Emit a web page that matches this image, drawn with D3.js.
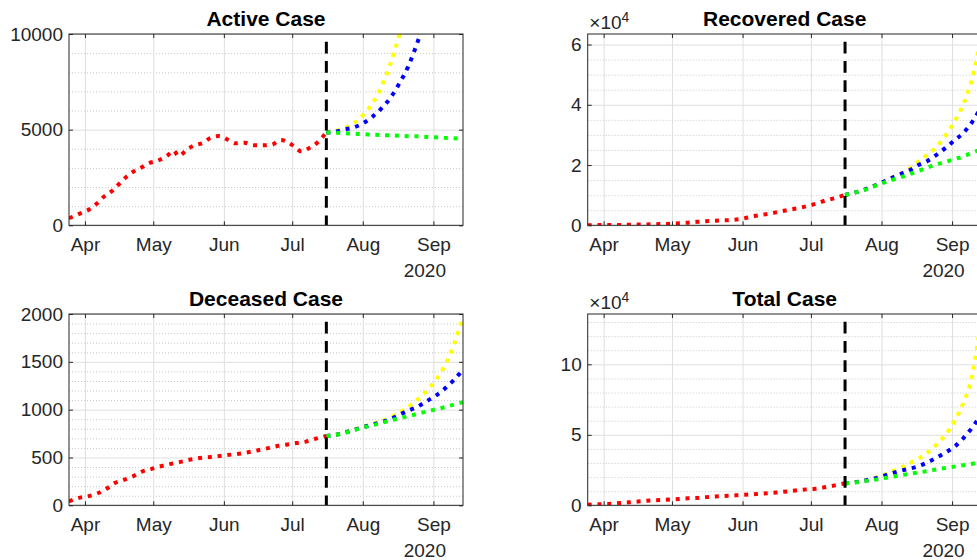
<!DOCTYPE html>
<html>
<head>
<meta charset="utf-8">
<script src="https://cdn.jsdelivr.net/npm/d3@7"></script>
<style>
body { margin: 0; background: #fff; }
svg { display: block; font-family: "Liberation Sans", Arial, Helvetica, sans-serif; }
</style>
</head>
<body>
<svg id="fig" width="977" height="560"></svg>
<script>
// ---- data ----
const xStart = "2020-03-25";
const xEnd = "2020-09-14";
const splitDate = "2020-07-16";

// common history dates (recovered, deceased, total)
const histDates = ["2020-03-25","2020-03-29","2020-04-02","2020-04-06","2020-04-10","2020-04-14",
  "2020-04-18","2020-04-22","2020-04-26","2020-04-30","2020-05-04","2020-05-08","2020-05-12",
  "2020-05-16","2020-05-20","2020-05-24","2020-05-28","2020-06-01","2020-06-05","2020-06-09",
  "2020-06-13","2020-06-17","2020-06-21","2020-06-25","2020-06-29","2020-07-03","2020-07-07",
  "2020-07-11","2020-07-16"];

// active case has more wiggles, own dates
const activeDates = ["2020-03-25","2020-03-26","2020-03-30","2020-04-03","2020-04-06","2020-04-09",
  "2020-04-13","2020-04-16","2020-04-19","2020-04-22","2020-04-26","2020-04-29","2020-05-03",
  "2020-05-07","2020-05-10","2020-05-12","2020-05-16","2020-05-19","2020-05-23","2020-05-26",
  "2020-05-30","2020-06-03","2020-06-06","2020-06-10","2020-06-14","2020-06-18","2020-06-22",
  "2020-06-26","2020-06-29","2020-07-02","2020-07-05","2020-07-08","2020-07-12","2020-07-15",
  "2020-07-16"];
const activeHist = [380,418,627,836,1113,1464,1809,2159,2509,2786,3032,3241,3377,3623,3900,3623,
  3973,4182,4318,4564,4668,4459,4286,4318,4182,4182,4213,4459,4355,4109,3868,4004,4318,4705,4850];

const recoveredHist = [50,60,80,100,150,200,260,330,400,500,650,870,1150,1350,1500,1650,1800,2200,
  2900,3400,3900,4500,5100,5650,6300,7100,8150,8950,10100];
const deceasedHist = [40,75,92,120,165,232,265,302,352,378,406,430,449,471,489,500,510,521,532,544,
  560,580,600,622,636,652,666,694,725];
const totalHist = [420,690,950,1330,1900,2360,2920,3420,3780,4150,4480,5000,5250,5800,6200,6550,6930,
  7340,7780,8250,8650,9260,9900,10700,11300,11750,12800,13950,15600];

// prediction dates
const predDates = ["2020-07-16","2020-07-20","2020-07-24","2020-07-28","2020-08-01","2020-08-05",
  "2020-08-09","2020-08-13","2020-08-17","2020-08-21","2020-08-25","2020-08-29","2020-09-02",
  "2020-09-06","2020-09-10","2020-09-14"];

const activeYellow = [4850,4920,5080,5330,5750,6330,7200,8400,9950,12000,14500,17500,21000,25000,30000,36000];
const activeBlue   = [4850,4900,5010,5120,5320,5650,6090,6640,7400,8320,9560,11000,12800,15000,17500,20500];
const activeGreen  = [4850,4840,4810,4790,4760,4740,4720,4700,4680,4660,4650,4620,4600,4570,4550,4520];

const recoveredYellow = [10100,10800,11700,12900,14200,15600,17000,18600,21100,23300,25900,29700,34400,40300,49300,64000];
const recoveredBlue   = [10100,10800,11700,12850,14150,15500,16900,18100,19900,21300,23300,25600,28200,30700,34500,39500];
const recoveredGreen  = [10100,10800,11600,12700,13900,14900,15850,16850,18000,19100,20200,21000,21950,22900,24100,25300];

const deceasedYellow = [725,737,762,792,820,848,878,918,968,1030,1105,1195,1310,1460,1680,1980];
const deceasedBlue   = [725,737,760,788,816,842,868,900,946,990,1030,1088,1145,1220,1310,1420];
const deceasedGreen  = [725,735,757,785,813,836,860,887,909,933,956,980,1003,1026,1053,1078];

const totalYellow = [15600,16300,17400,18900,21000,23500,26300,29500,32800,37000,42800,49800,59500,73000,93000,136000];
const totalBlue   = [15600,16250,17300,18600,20400,22500,24300,25900,27600,30300,33600,37300,41500,47700,55500,65000];
const totalGreen  = [15600,16150,17020,17850,18930,20020,21150,22230,23200,24200,25400,26400,27450,28400,29500,30500];

// y ticks
const activeTicks = [0,5000,10000];
const recoveredTicks = [0,20000,40000,60000];
const deceasedTicks = [0,500,1000,1500,2000];
const totalTicks = [0,50000,100000];

// ---- drawing ----
const parse = d3.timeParse("%Y-%m-%d");
const W = 394, H = 191.3;
const ink = "#262626";
const svg = d3.select("#fig");

const panels = [
  {title: "Active Case", left: 69, top: 34, yMax: 10000, ticks: activeTicks, minor: 1000, exp: false,
   hd: activeDates, hv: activeHist, pred: [activeYellow, activeBlue, activeGreen]},
  {title: "Recovered Case", left: 587.7, top: 34, yMax: 63500, ticks: recoveredTicks, minor: 5000, exp: true,
   hd: histDates, hv: recoveredHist, pred: [recoveredYellow, recoveredBlue, recoveredGreen]},
  {title: "Deceased Case", left: 69, top: 314, yMax: 2000, ticks: deceasedTicks, minor: 100, exp: false,
   hd: histDates, hv: deceasedHist, pred: [deceasedYellow, deceasedBlue, deceasedGreen]},
  {title: "Total Case", left: 587.7, top: 314, yMax: 135700, ticks: totalTicks, minor: 10000, exp: true,
   hd: histDates, hv: totalHist, pred: [totalYellow, totalBlue, totalGreen]}
];
const predColors = ["#ffff00", "#0000ff", "#00ff00"];

panels.forEach(function(p, i) {
  const g = svg.append("g").attr("transform", "translate(" + p.left + "," + p.top + ")");
  const x = d3.scaleTime().domain([parse(xStart), parse(xEnd)]).range([0, W]);
  const y = d3.scaleLinear().domain([0, p.yMax]).range([H, 0]);
  const months = x.ticks(d3.timeMonth.every(1));

  // minor grid (dotted)
  const minorVals = d3.range(p.minor, p.yMax, p.minor).filter(v => !p.ticks.includes(v));
  const mg = g.append("g").call(d3.axisLeft(y).tickValues(minorVals).tickSize(-W).tickFormat(""));
  mg.select(".domain").remove();
  mg.selectAll("line").attr("stroke", "#c8c8c8").attr("stroke-dasharray", "1,2");

  // major grid
  const yg = g.append("g").call(d3.axisLeft(y).tickValues(p.ticks).tickSize(-W).tickFormat(""));
  yg.select(".domain").remove();
  yg.selectAll("line").attr("stroke", "#dfdfdf");
  const xg = g.append("g").attr("transform", "translate(0," + H + ")")
    .call(d3.axisBottom(x).tickValues(months).tickSize(-H).tickFormat(""));
  xg.select(".domain").remove();
  xg.selectAll("line").attr("stroke", "#dfdfdf");

  // data lines
  const clipId = "clip" + i;
  g.append("clipPath").attr("id", clipId).append("rect").attr("width", W).attr("height", H);
  const plot = g.append("g").attr("clip-path", "url(#" + clipId + ")");
  const line = d3.line().x(d => x(d[0])).y(d => y(d[1])).curve(d3.curveMonotoneX);

  p.pred.forEach(function(vals, k) {
    plot.append("path")
      .datum(predDates.map((d, j) => [parse(d), vals[j]]))
      .attr("d", line)
      .attr("fill", "none")
      .attr("stroke", predColors[k])
      .attr("stroke-width", 4)
      .attr("stroke-dasharray", "4,5.8");
  });
  plot.append("path")
    .datum(p.hd.map((d, j) => [parse(d), p.hv[j]]))
    .attr("d", line)
    .attr("fill", "none")
    .attr("stroke", "#ff0000")
    .attr("stroke-width", 4)
    .attr("stroke-dasharray", "4,5.8");

  // dashed split line
  plot.append("line")
    .attr("x1", x(parse(splitDate))).attr("x2", x(parse(splitDate)))
    .attr("y1", 0).attr("y2", H)
    .attr("stroke", "#000").attr("stroke-width", 3)
    .attr("stroke-dasharray", "11.7,7.6").attr("stroke-dashoffset", 11.6);

  // axes: ticks inward on all four sides
  const xb = g.append("g").attr("transform", "translate(0," + H + ")")
    .call(d3.axisBottom(x).tickValues(months).tickSizeInner(-4).tickSizeOuter(0)
      .tickPadding(12).tickFormat(d3.timeFormat("%b")));
  const xt = g.append("g")
    .call(d3.axisTop(x).tickValues(months).tickSizeInner(-4).tickSizeOuter(0).tickFormat(""));
  const fmt = p.exp ? (v => String(v / 10000)) : (v => String(v));
  const yl = g.append("g")
    .call(d3.axisLeft(y).tickValues(p.ticks).tickSizeInner(-4).tickSizeOuter(0)
      .tickPadding(6).tickFormat(fmt));
  const yr = g.append("g").attr("transform", "translate(" + W + ",0)")
    .call(d3.axisRight(y).tickValues(p.ticks).tickSizeInner(-4).tickSizeOuter(0).tickFormat(""));
  [xb, xt, yl, yr].forEach(function(a) {
    a.select(".domain").remove();
    a.selectAll("line").attr("stroke", ink);
    a.selectAll("text").attr("fill", ink).style("font-size", "19px")
      .style("font-family", "'Liberation Sans', Arial, sans-serif");
  });

  // box
  g.append("rect").attr("width", W).attr("height", H)
    .attr("fill", "none").attr("stroke", ink).attr("stroke-width", 1);

  // year label
  g.append("text").attr("x", W - 17).attr("y", H + 51.4)
    .attr("text-anchor", "end").attr("fill", ink).style("font-size", "19px")
    .text("2020");

  // exponent label
  if (p.exp) {
    const t = g.append("text").attr("x", 1.6).attr("y", -5).attr("fill", ink).style("font-size", "19px");
    t.append("tspan").text("\u00d710");
    t.append("tspan").attr("dy", -7.3).style("font-size", "14px").text("4");
  }

  // title
  g.append("text").attr("x", W / 2).attr("y", -8)
    .attr("text-anchor", "middle").attr("fill", "#000")
    .style("font-size", "21px").style("font-weight", "bold")
    .text(p.title);
});
</script>
</body>
</html>
